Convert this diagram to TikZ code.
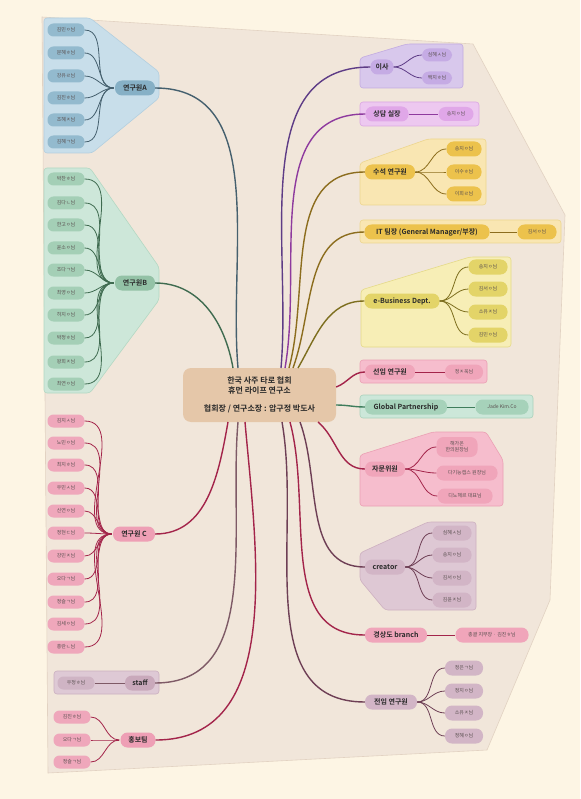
\documentclass[tikz,border=0pt]{standalone}
\usepackage{fontspec}
\setmainfont{Noto Sans CJK KR}[BoldFont={Noto Sans CJK KR Bold}]
\definecolor{bgc}{HTML}{FDF5E4}
\definecolor{mainc}{HTML}{F1E6DA}
\definecolor{mainb}{HTML}{E2D2C2}
\definecolor{cenc}{HTML}{E5C7A9}
% group A
\definecolor{gAbox}{HTML}{C8DEEA}\definecolor{gAbd}{HTML}{B3CFDF}\definecolor{gAleaf}{HTML}{93BACE}\definecolor{gAhub}{HTML}{86B0C6}\definecolor{lA}{HTML}{45606E}
\definecolor{gBbox}{HTML}{CDE7D9}\definecolor{gBbd}{HTML}{B3D8C3}\definecolor{gBleaf}{HTML}{A4CFB6}\definecolor{gBhub}{HTML}{93C2A6}\definecolor{lB}{HTML}{3F6B50}
\definecolor{pinkleaf}{HTML}{EFA7BB}\definecolor{pinkhub}{HTML}{EE9FB5}\definecolor{lC}{HTML}{A3244A}
\definecolor{stbox}{HTML}{DEC9D5}\definecolor{stbd}{HTML}{CBB0C0}\definecolor{stleaf}{HTML}{CFB4C4}\definecolor{sthub}{HTML}{C9A9BB}\definecolor{lSt}{HTML}{7E5A66}
\definecolor{isbox}{HTML}{D8C8EC}\definecolor{isbd}{HTML}{C2ABE0}\definecolor{isleaf}{HTML}{C5ABE4}\definecolor{lIs}{HTML}{5E3C86}
\definecolor{sdbox}{HTML}{EDC8F0}\definecolor{sdbd}{HTML}{DBA6E2}\definecolor{sdleaf}{HTML}{E0A7E8}\definecolor{lSd}{HTML}{8E3A9E}
\definecolor{ssbox}{HTML}{F9E6B2}\definecolor{ssbd}{HTML}{EDD58E}\definecolor{ssleaf}{HTML}{ECC24C}\definecolor{lSs}{HTML}{8C6D1E}
\definecolor{ebbox}{HTML}{F7EEB6}\definecolor{ebbd}{HTML}{E5DA88}\definecolor{ebleaf}{HTML}{E3D468}\definecolor{lEb}{HTML}{7D6E1E}
\definecolor{pkbox}{HTML}{F6BDCD}\definecolor{pkbd}{HTML}{EBA0B4}\definecolor{pkleaf}{HTML}{F0A5BA}
\definecolor{glbox}{HTML}{CCE7D9}\definecolor{glbd}{HTML}{A9D2BC}\definecolor{glleaf}{HTML}{A6D2BA}\definecolor{lGl}{HTML}{3F7D5C}
\definecolor{crbox}{HTML}{DEC8D4}\definecolor{crbd}{HTML}{CDB0C0}\definecolor{crleaf}{HTML}{D2B5C6}\definecolor{lCr}{HTML}{6E3F55}
\definecolor{txt}{HTML}{2A2A2A}
\definecolor{ltxt}{HTML}{5A5050}
\tikzset{
  leaf/.style={rounded corners=6pt, minimum height=13pt, minimum width=37pt, inner sep=1pt, text=ltxt, font=\fontsize{5}{6}\selectfont},
  rleaf/.style={rounded corners=7pt, minimum height=15pt, minimum width=38pt, inner sep=1pt, text=ltxt, font=\fontsize{5}{6}\selectfont},
  hub/.style={rounded corners=7pt, minimum height=15pt, inner xsep=3pt, text=txt, font=\bfseries\fontsize{7}{8}\selectfont},
  grp/.style={line width=0.6pt, rounded corners=3pt},
  mline/.style={line width=1.4pt},
  sline/.style={line width=0.8pt},
}
\begin{document}
\begin{tikzpicture}[x=1pt,y=1pt]
\fill[bgc] (0,0) rectangle (580,-799);
\useasboundingbox (0,0) rectangle (580,-799);
\filldraw[fill=mainc, draw=mainb, line width=0.6pt] (42,-17) -- (473,-44) -- (565,-215) -- (550,-600) -- (487,-750) -- (48,-773) -- cycle;

% group boxes
\filldraw[grp, fill=gAbox, draw=gAbd] (44,-18) -- (90,-18) -- (159,-72) -- (159,-98) -- (92,-153) -- (44,-153) -- cycle;
\filldraw[grp, fill=gBbox, draw=gBbd] (44,-168) -- (90,-168) -- (159,-267) -- (159,-300) -- (90,-393) -- (44,-393) -- cycle;
\filldraw[grp, fill=stbox, draw=stbd] (54,-671) rectangle (159,-694);
\filldraw[grp, fill=isbox, draw=isbd] (360,-58) -- (407,-44) -- (463,-44) -- (463,-88) -- (360,-88) -- cycle;
\filldraw[grp, fill=sdbox, draw=sdbd] (360,-102) rectangle (479,-126);
\filldraw[grp, fill=ssbox, draw=ssbd] (360,-163) -- (428,-139) -- (486,-139) -- (486,-205) -- (360,-205) -- cycle;
\filldraw[grp, fill=ssbox, draw=ssbd] (360,-220) rectangle (561,-243);
\filldraw[grp, fill=ebbox, draw=ebbd] (361,-290) -- (470,-257) -- (511,-257) -- (511,-347) -- (361,-347) -- cycle;
\filldraw[grp, fill=pkbox, draw=pkbd] (360,-360) rectangle (487,-383);
\filldraw[grp, fill=glbox, draw=glbd] (360,-395) rectangle (533,-418);
\filldraw[grp, fill=pkbox, draw=pkbd] (360,-455) -- (433,-432) -- (486,-432) -- (503,-460) -- (503,-506) -- (360,-506) -- cycle;
\filldraw[grp, fill=crbox, draw=crbd] (360,-553) -- (428,-522) -- (476,-522) -- (476,-610) -- (385,-610) -- (360,-580) -- cycle;

% central node
\node[rounded corners=8pt, fill=cenc, minimum width=153pt, minimum height=54pt, align=center, text=txt,
      font=\bfseries\fontsize{8}{10}\selectfont] (cen) at (259.5,-395)
      {한국 사주 타로 협회\\휴먼 라이프 연구소\\[8pt]협회장 / 연구소장 : 압구정 박도사};

% ---------- left side ----------
\node[hub, fill=gAhub, minimum width=40pt] (hA) at (135,-88) {연구원A};
\foreach \t/\y [count=\i] in {김민ㅇ님/30,문혜ㅎ님/53,강유ㄹ님/76,김진ㅎ님/98,조혜ㅈ님/120,김혜ㄱ님/142}
  \node[leaf, fill=gAleaf] (a\i) at (66,-\y) {\t};
\node[hub, fill=gBhub, minimum width=40pt] (hB) at (135,-283) {연구원B};
\foreach \t/\y [count=\i] in {박찬ㅎ님/179,김다ㄴ님/203,한고ㅇ님/225,윤소ㅇ님/248,조다ㄱ님/270,최영ㅇ님/293,허지ㅇ님/315,박정ㅎ님/338,왕희ㅈ님/362,최연ㅇ님/384}
  \node[leaf, fill=gBleaf] (b\i) at (66,-\y) {\t};
\node[hub, fill=pinkhub, minimum width=42pt] (hC) at (134,-534) {연구원 C};
\foreach \t/\y [count=\i] in {김지ㅅ님/421,노민ㅇ님/443,최지ㅎ님/465,우민ㅅ님/488,신연ㅇ님/511,정현ㄷ님/533,강민ㅈ님/556,오다ㄱ님/579,정슬ㄱ님/602,김세ㅇ님/624,홍란ㄴ님/647}
  \node[leaf, fill=pinkleaf] (c\i) at (66,-\y) {\t};
\node[hub, fill=sthub, minimum width=30pt] (hS) at (140,-683) {staff};
\node[leaf, fill=stleaf] (s1) at (76,-683) {우정ㅎ님};
\node[hub, fill=pinkhub, minimum width=35pt] (hH) at (138,-740) {홍보팀};
\foreach \t/\y [count=\i] in {김진ㅎ님/717,오다ㄱ님/740,정슬ㄱ님/762}
  \node[leaf, fill=pinkleaf] (p\i) at (72,-\y) {\t};

% ---------- right side ----------
\node[hub, fill=isleaf, minimum width=23pt] (hIs) at (382,-67) {이사};
\node[rleaf, fill=isleaf, minimum width=30pt, minimum height=13pt] (is1) at (437,-55) {심혜ㅅ님};
\node[rleaf, fill=isleaf, minimum width=30pt, minimum height=13pt] (is2) at (437,-78) {백지ㅎ님};
\node[hub, fill=sdleaf, minimum width=43pt] (hSd) at (387,-114) {상담 실장};
\node[rleaf, fill=sdleaf, minimum width=35pt, minimum height=14pt] (sd1) at (456,-114) {송지ㅇ님};
\node[hub, fill=ssleaf, minimum width=50pt] (hSs) at (390,-172) {수석 연구원};
\foreach \t/\y [count=\i] in {송지ㅇ님/149,이수ㅎ님/172,이희ㄹ님/194}
  \node[rleaf, fill=ssleaf, minimum width=35pt] (ss\i) at (464,-\y) {\t};
\node[hub, fill=ssleaf, minimum width=125pt] (hIt) at (427,-232) {IT 팀장 (General Manager/부장)};
\node[rleaf, fill=ssleaf, minimum width=39pt] (it1) at (537,-232) {김서ㅇ님};
\node[hub, fill=ebleaf, minimum width=75pt] (hEb) at (402,-301) {e-Business Dept.};
\foreach \t/\y [count=\i] in {송지ㅇ님/267,김서ㅇ님/289,소유ㅈ님/312,김민ㅇ님/335}
  \node[rleaf, fill=ebleaf, minimum width=39pt] (eb\i) at (488,-\y) {\t};
\node[hub, fill=pkleaf, minimum width=50pt] (hSn) at (390,-372) {선임 연구원};
\node[rleaf, fill=pkleaf, minimum width=38pt] (sn1) at (464,-372) {정ㅈ욱님};
\node[hub, fill=glleaf, minimum width=82pt] (hGl) at (406,-407) {Global Partnership};
\node[rleaf, fill=glleaf, minimum width=53pt] (gl1) at (502,-407) {Jade Kim.Co};
\node[hub, fill=pkleaf, minimum width=40pt] (hJm) at (385,-469) {자문위원};
\node[rleaf, fill=pkleaf, minimum width=41pt, minimum height=20pt, align=center, font=\fontsize{5}{6}\selectfont] (jm1) at (457,-447) {해가온\\한의원장님};
\node[rleaf, fill=pkleaf, minimum width=61pt] (jm2) at (467,-473) {다기능캡스 원장님};
\node[rleaf, fill=pkleaf, minimum width=55pt] (jm3) at (465,-496) {디노헤르 대표님};
\node[hub, fill=crleaf, minimum width=40pt] (hCr) at (385,-567) {creator};
\foreach \t/\y [count=\i] in {심혜ㅅ님/533,송지ㅇ님/555,김서ㅇ님/578,김윤ㅈ님/600}
  \node[rleaf, fill=crleaf, minimum width=39pt] (cr\i) at (452,-\y) {\t};
\node[hub, fill=pkleaf, minimum width=62pt] (hGs) at (396,-635) {경상도 branch};
\node[rleaf, fill=pkleaf, minimum width=73pt] (gs1) at (492,-635) {총괄 지부장 · 김진ㅎ님};
\node[hub, fill=crleaf, minimum width=52pt] (hJi) at (391,-702) {전임 연구원};
\foreach \t/\y [count=\i] in {정은ㄱ님/668,정지ㅇ님/691,소유ㅈ님/713,정혜ㅇ님/736}
  \node[rleaf, fill=crleaf, minimum width=38pt] (ji\i) at (464,-\y) {\t};

% ---------- leaf connectors ----------
\foreach \i in {1,...,6} \draw[sline, lA] (a\i.east) to[out=0,in=180] ([xshift=-1pt]hA.west);
\foreach \i in {1,...,10} \draw[sline, lB] (b\i.east) to[out=0,in=180] ([xshift=-1pt]hB.west);
\foreach \i in {1,...,11} \draw[sline, lC] (c\i.east) to[out=0,in=180] ([xshift=-1pt]hC.west);
\draw[sline, lSt] (s1.east) -- (hS.west);
\foreach \i in {1,...,3} \draw[sline, lC] (p\i.east) to[out=0,in=180] ([xshift=-1pt]hH.west);
\foreach \i in {1,2} \draw[sline, lIs] (hIs.east) to[out=0,in=180] (is\i.west);
\draw[sline, lSd] (hSd.east) -- (sd1.west);
\foreach \i in {1,...,3} \draw[sline, lSs] (hSs.east) to[out=0,in=180] (ss\i.west);
\draw[sline, lSs] (hIt.east) -- (it1.west);
\foreach \i in {1,...,4} \draw[sline, lEb] (hEb.east) to[out=0,in=180] (eb\i.west);
\draw[sline, lC] (hSn.east) -- (sn1.west);
\draw[sline, lGl] (hGl.east) -- (gl1.west);
\foreach \i in {1,...,3} \draw[sline, lC] (hJm.east) to[out=0,in=180] (jm\i.west);
\foreach \i in {1,...,4} \draw[sline, lCr] (hCr.east) to[out=0,in=180] (cr\i.west);
\draw[sline, lC] (hGs.east) -- (gs1.west);
\foreach \i in {1,...,4} \draw[sline, lCr] (hJi.east) to[out=0,in=180] (ji\i.west);

% ---------- main connectors ----------
\coordinate (tA) at (238,-368);
\coordinate (tB) at (233,-368);
\coordinate (bC) at (228,-422);
\coordinate (bS) at (238,-422);
\coordinate (bH) at (245,-422);
\draw[mline, lA] (hA.east) to[out=0,in=95] (tA);
\draw[mline, lB] (hB.east) to[out=0,in=100] (tB);
\draw[mline, lC] (hC.east) to[out=0,in=-100] (bC);
\draw[mline, lSt] (hS.east) to[out=0,in=-95] (bS);
\draw[mline, lC] (hH.east) to[out=0,in=-85] (bH);

\coordinate (tIs) at (281,-368);
\coordinate (tSd) at (285,-368);
\coordinate (tSs) at (289,-368);
\coordinate (tIt) at (293,-368);
\coordinate (tEb) at (298,-368);
\coordinate (bJm) at (318,-422);
\coordinate (bCr) at (300,-422);
\coordinate (bGs) at (290,-422);
\coordinate (bJi) at (282,-422);
\draw[mline, lIs] (tIs) to[out=85,in=180] (hIs.west);
\draw[mline, lSd] (tSd) to[out=80,in=180] (hSd.west);
\draw[mline, lSs] (tSs) to[out=75,in=180] (hSs.west);
\draw[mline, lSs] (tIt) to[out=70,in=180] (hIt.west);
\draw[mline, lEb] (tEb) to[out=60,in=180] (hEb.west);
\draw[mline, lC] ([yshift=8pt]cen.east) to[out=20,in=180] (hSn.west);
\draw[mline, lGl] ([yshift=-10pt]cen.east) to[out=0,in=180] (hGl.west);
\draw[mline, lC] (bJm) to[out=-40,in=180] (hJm.west);
\draw[mline, lCr] (bCr) to[out=-70,in=180] (hCr.west);
\draw[mline, lC] (bGs) to[out=-75,in=180] (hGs.west);
\draw[mline, lCr] (bJi) to[out=-80,in=180] (hJi.west);
\end{tikzpicture}
\end{document}
